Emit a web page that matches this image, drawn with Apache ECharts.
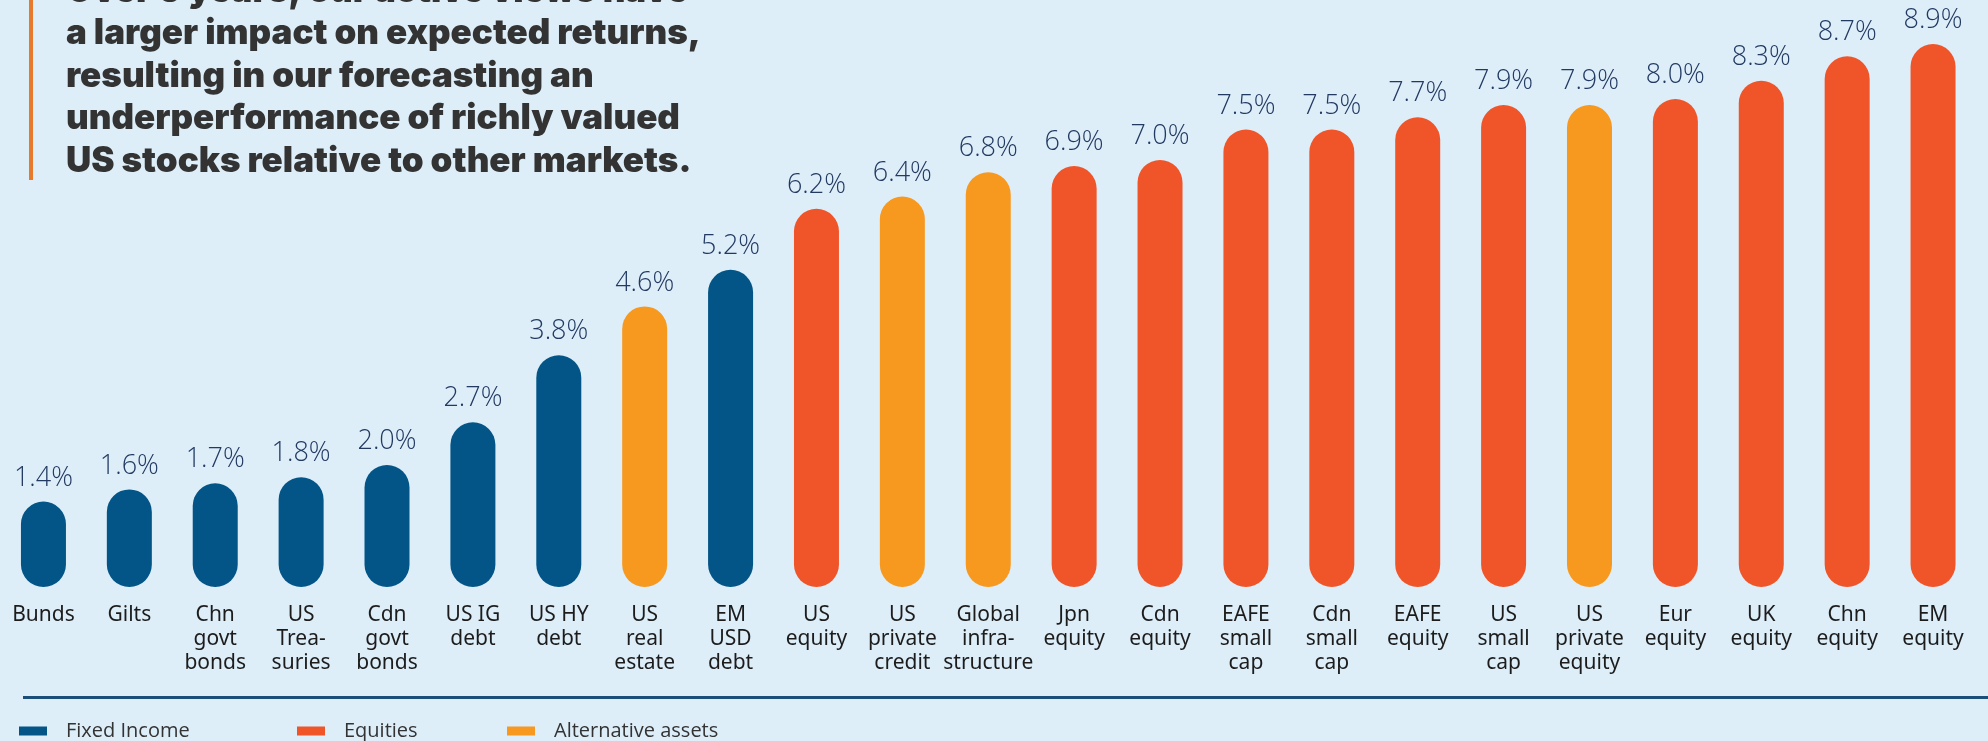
<!DOCTYPE html>
<html>
<head>
<meta charset="utf-8">
<script src="https://cdn.jsdelivr.net/npm/echarts@6/dist/echarts.min.js"></script>
<style>
  html, body { margin: 0; padding: 0; background: #ddeef9; }
  #chart { width: 1988px; height: 741px; }
</style>
</head>
<body>
<div id="chart"></div>
<script>
// Asset classes, left to right, with their expected annual return (%)
const categories = [
  'Bunds', 'Gilts', 'Chn\ngovt\nbonds', 'US\nTrea-\nsuries', 'Cdn\ngovt\nbonds',
  'US IG\ndebt', 'US HY\ndebt', 'US\nreal\nestate', 'EM\nUSD\ndebt', 'US\nequity',
  'US\nprivate\ncredit', 'Global\ninfra-\nstructure', 'Jpn\nequity', 'Cdn\nequity',
  'EAFE\nsmall\ncap', 'Cdn\nsmall\ncap', 'EAFE\nequity', 'US\nsmall\ncap',
  'US\nprivate\nequity', 'Eur\nequity', 'UK\nequity', 'Chn\nequity', 'EM\nequity'
];
const returns = [
  1.4, 1.6, 1.7, 1.8, 2.0, 2.7, 3.8, 4.6, 5.2, 6.2, 6.4, 6.8,
  6.9, 7.0, 7.5, 7.5, 7.7, 7.9, 7.9, 8.0, 8.3, 8.7, 8.9
];
// Asset class group of each category
const groups = [
  'Fixed Income', 'Fixed Income', 'Fixed Income', 'Fixed Income', 'Fixed Income',
  'Fixed Income', 'Fixed Income', 'Alternative assets', 'Fixed Income', 'Equities',
  'Alternative assets', 'Alternative assets', 'Equities', 'Equities',
  'Equities', 'Equities', 'Equities', 'Equities',
  'Alternative assets', 'Equities', 'Equities', 'Equities', 'Equities'
];
const groupNames = ['Fixed Income', 'Equities', 'Alternative assets'];
const groupColors = { 'Fixed Income': '#035587', 'Equities': '#f0552a', 'Alternative assets': '#f7981f' };

const headline = [
  'Over 5 years, our active views have',
  'a larger impact on expected returns,',
  'resulting in our forecasting an',
  'underperformance of richly valued',
  'US stocks relative to other markets.'
].join('\n');

const chart = echarts.init(document.getElementById('chart'));

// One bar series per group; each category is filled only in its own group
const series = groupNames.map(g => ({
  name: g,
  type: 'bar',
  barWidth: 45,
  barGap: '-100%',
  itemStyle: { color: groupColors[g], borderRadius: 22.5 },
  label: {
    show: true,
    position: 'top',
    distance: 10,
    color: '#223a62',
    fontFamily: 'Open Sans',
    fontWeight: 300,
    fontSize: 27,
    formatter: p => p.value.toFixed(1) + '%'
  },
  data: returns.map((v, i) => groups[i] === g ? v : '-')
}));

const legendX = [19, 297, 507];

chart.setOption({
  backgroundColor: '#ddeef9',
  animation: false,
  title: {
    text: headline,
    left: 66,
    top: -30,
    padding: 0,
    textStyle: {
      fontFamily: 'Inter',
      fontWeight: 900,
      fontSize: 35,
      lineHeight: 42.5,
      color: '#333333'
    }
  },
  legend: groupNames.map((g, i) => ({
    data: [g],
    left: legendX[i],
    top: 721,
    padding: 0,
    icon: 'rect',
    itemWidth: 28,
    itemHeight: 9,
    selectedMode: false,
    textStyle: {
      fontFamily: 'Open Sans',
      fontWeight: 400,
      fontSize: 20,
      color: '#333333',
      padding: [0, 0, 0, 14]
    }
  })),
  grid: { left: 0.5, right: 12, top: 38, bottom: 154 },
  xAxis: {
    type: 'category',
    data: categories,
    axisLine: { show: false },
    axisTick: { show: false },
    axisLabel: {
      interval: 0,
      margin: 16,
      color: '#1c1c1c',
      fontFamily: 'Noto Sans',
      fontSize: 21,
      lineHeight: 24
    }
  },
  yAxis: {
    type: 'value',
    min: 0,
    max: 9,
    show: false
  },
  graphic: [
    { type: 'rect', shape: { x: 29, y: 0, width: 4, height: 180 }, style: { fill: '#e8792b' } },
    { type: 'rect', shape: { x: 23, y: 696, width: 1965, height: 3 }, style: { fill: '#1b4f7a' } }
  ],
  series: series
});
</script>
</body>
</html>
